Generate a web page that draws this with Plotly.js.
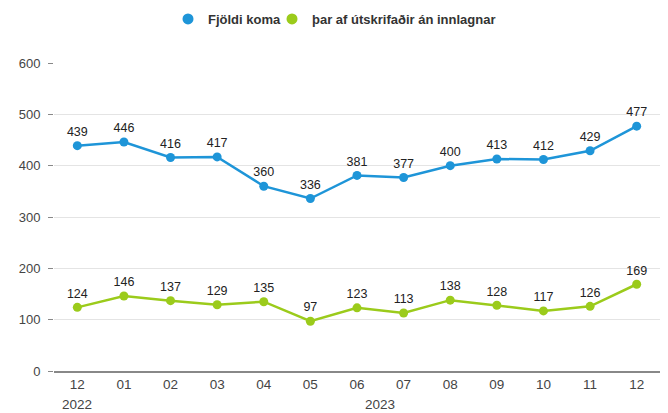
<!DOCTYPE html>
<html>
<head>
<meta charset="utf-8">
<script src="https://cdn.plot.ly/plotly-3.0.1.min.js"></script>
<style>html,body{margin:0;padding:0;background:#fff;}#chart{width:668px;height:413px;}</style>
</head>
<body>
<div id="chart"></div>
<script>
const months = ["12","01","02","03","04","05","06","07","08","09","10","11","12"];
const fjoldiKoma = [439,446,416,417,360,336,381,377,400,413,412,429,477];
const utskrifadir = [124,146,137,129,135,97,123,113,138,128,117,126,169];
const seriesNames = ["Fjöldi koma","þar af útskrifaðir án innlagnar"];
const seriesColors = ["#1E95D8","#9BCB1B"];
const yearLabels = ["2022","2023"];
const yearPos = [0, 6.5];

const xIdx = months.map((m,i)=>i);
const fam = "Liberation Sans, Arial, sans-serif";

function series(name, y, color){
  return {
    type:"scatter", mode:"lines+markers+text", name:name, showlegend:false,
    x:xIdx, y:y, text:y.map(String), textposition:"top center",
    textfont:{family:fam, size:12.5, color:"#222"},
    line:{color:color, width:2.5}, marker:{color:color, size:9},
    cliponaxis:false, hoverinfo:"none"
  };
}
function legendItem(name, color, lg){
  return {type:"scatter", mode:"markers", name:name, x:[null], y:[null], legend:lg,
          marker:{color:color, size:11}, showlegend:true, hoverinfo:"none"};
}

const data = [
  series(seriesNames[0], fjoldiKoma, seriesColors[0]),
  series(seriesNames[1], utskrifadir, seriesColors[1]),
  legendItem(seriesNames[0], seriesColors[0], "legend"),
  legendItem(seriesNames[1], seriesColors[1], "legend2")
];

function legendAt(px){
  return {orientation:"h", xref:"container", yref:"container", x:px/668, xanchor:"left",
          y:1-19/413, yanchor:"middle", bgcolor:"rgba(0,0,0,0)",
          font:{family:fam, size:13, color:"#333", weight:"bold"}, itemwidth:30, tracegroupgap:0};
}

const layout = {
  width:668, height:413,
  margin:{l:54, r:8, t:63, b:42, autoexpand:false},
  paper_bgcolor:"#fff", plot_bgcolor:"#fff",
  font:{family:fam, size:13, color:"#444"},
  showlegend:true,
  legend:legendAt(168),
  legend2:legendAt(272),
  xaxis:{
    type:"linear", range:[-0.5,12.5], tickmode:"array", tickvals:xIdx, ticktext:months,
    showgrid:false, zeroline:false, showline:true, linecolor:"#888", linewidth:1.5,
    ticks:"", tickfont:{size:13.5, color:"#444"}, fixedrange:true
  },
  yaxis:{
    range:[0,600], tickvals:[0,100,200,300,400,500,600], showgrid:true, gridcolor:"#e4e4e4",
    zeroline:false, showline:false, ticks:"outside", ticklen:5, tickcolor:"#888",
    tickfont:{size:13, color:"#444"}, ticklabelstandoff:5, fixedrange:true
  },
  annotations: yearLabels.map((t,i)=>({
    text:t, x:yearPos[i], xref:"x", y:0, yref:"paper", yshift:-33, yanchor:"middle",
    showarrow:false, font:{family:fam, size:13.5, color:"#444"}
  }))
};

Plotly.newPlot("chart", data, layout, {displayModeBar:false, staticPlot:true});
</script>
</body>
</html>
